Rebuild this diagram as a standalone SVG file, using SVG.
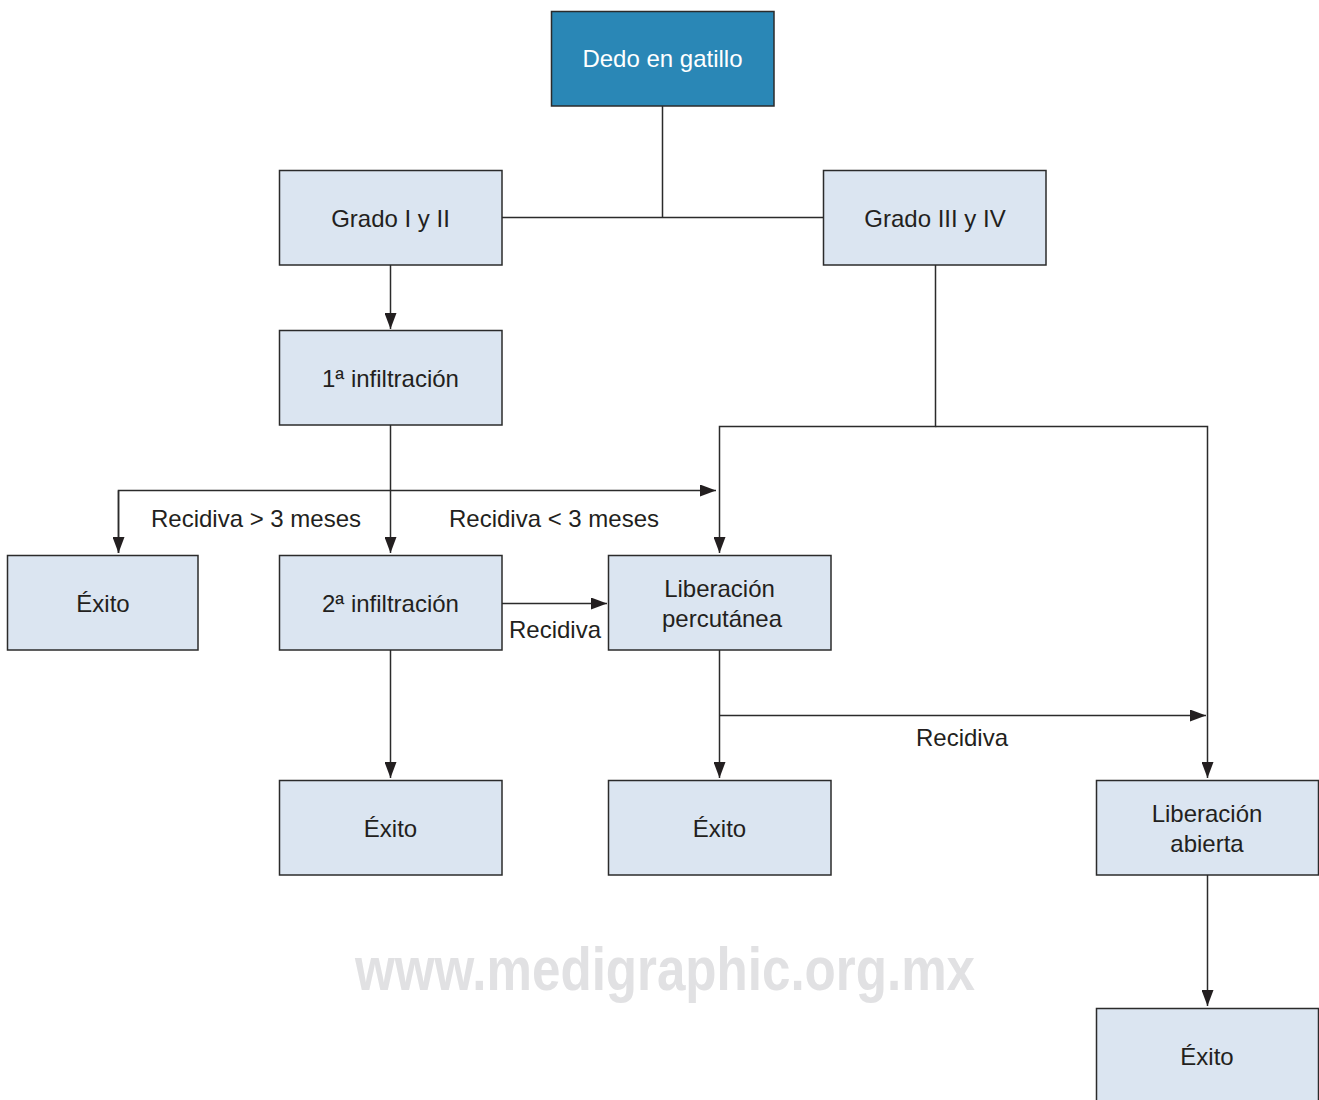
<svg xmlns="http://www.w3.org/2000/svg" width="1319" height="1100" viewBox="0 0 1319 1100">
<style>
.box{fill:#dbe5f1;stroke:#2b2b2b;stroke-width:1.5}
.top{fill:#2a87b6;stroke:#2b2b2b;stroke-width:1.5}
.t{font-family:"Liberation Sans",Arial,sans-serif;font-size:24px;fill:#231f20;text-anchor:middle}
.tw{font-family:"Liberation Sans",Arial,sans-serif;font-size:24px;fill:#ffffff;text-anchor:middle}
.c{fill:none;stroke:#2b2b2b;stroke-width:1.5}
.wm{font-family:"Liberation Sans",Arial,sans-serif;font-weight:bold;font-size:62px;fill:#e1e1e3}
</style>
<defs>
<marker id="ah" viewBox="0 0 16 12" refX="16" refY="6" markerWidth="16" markerHeight="12" markerUnits="userSpaceOnUse" orient="auto">
<path d="M0,0 L16,6 L0,12 Z" fill="#231f20"/>
</marker>
</defs>
<rect width="1319" height="1100" fill="#ffffff"/>
<text class="wm" x="355" y="990" textLength="620" lengthAdjust="spacingAndGlyphs">www.medigraphic.org.mx</text>
<g id="connectors">
<path class="c" d="M662.5,106 V217.5 M502,217.5 H823"/>
<path class="c" d="M390.5,265 V329" marker-end="url(#ah)"/>
<path class="c" d="M390.5,425 V553" marker-end="url(#ah)"/>
<path class="c" d="M118.5,553 V490.5 H716" marker-end="url(#ah)"/>
<path class="c" d="M118.5,490.5 V553" marker-end="url(#ah)"/>
<path class="c" d="M935.5,265 V426.5 H719.5 V553" marker-end="url(#ah)"/>
<path class="c" d="M935.5,426.5 H1207.5 V778" marker-end="url(#ah)"/>
<path class="c" d="M502,603.5 H607" marker-end="url(#ah)"/>
<path class="c" d="M390.5,650 V778" marker-end="url(#ah)"/>
<path class="c" d="M719.5,650 V778" marker-end="url(#ah)"/>
<path class="c" d="M719.5,715.5 H1206" marker-end="url(#ah)"/>
<path class="c" d="M1207.5,875 V1006" marker-end="url(#ah)"/>
<text class="t" x="256" y="527">Recidiva &gt; 3 meses</text>
<text class="t" x="554" y="527">Recidiva &lt; 3 meses</text>
<text class="t" x="555" y="638">Recidiva</text>
<text class="t" x="962" y="746">Recidiva</text>
</g>
<g id="n-dedo"><rect class="top" x="551.5" y="11.5" width="222.5" height="94.5"/><text class="tw" x="662.5" y="67">Dedo en gatillo</text></g>
<g id="n-grado12"><rect class="box" x="279.5" y="170.5" width="222.5" height="94.5"/><text class="t" x="390.5" y="227">Grado I y II</text></g>
<g id="n-grado34"><rect class="box" x="823.5" y="170.5" width="222.5" height="94.5"/><text class="t" x="935" y="227">Grado III y IV</text></g>
<g id="n-inf1"><rect class="box" x="279.5" y="330.5" width="222.5" height="94.5"/><text class="t" x="390.5" y="387">1ª infiltración</text></g>
<g id="n-exito1"><rect class="box" x="7.5" y="555.5" width="190.5" height="94.5"/><text class="t" x="103" y="612">Éxito</text></g>
<g id="n-inf2"><rect class="box" x="279.5" y="555.5" width="222.5" height="94.5"/><text class="t" x="390.5" y="612">2ª infiltración</text></g>
<g id="n-libperc"><rect class="box" x="608.5" y="555.5" width="222.5" height="94.5"/><text class="t" x="719.5" y="597">Liberación</text><text class="t" x="722" y="627">percutánea</text></g>
<g id="n-exito2"><rect class="box" x="279.5" y="780.5" width="222.5" height="94.5"/><text class="t" x="390.5" y="837">Éxito</text></g>
<g id="n-exito3"><rect class="box" x="608.5" y="780.5" width="222.5" height="94.5"/><text class="t" x="719.5" y="837">Éxito</text></g>
<g id="n-libab"><rect class="box" x="1096.5" y="780.5" width="222" height="94.5"/><text class="t" x="1207" y="822">Liberación</text><text class="t" x="1207" y="852">abierta</text></g>
<g id="n-exito4"><rect class="box" x="1096.5" y="1008.5" width="222" height="100"/><text class="t" x="1207" y="1065">Éxito</text></g>
</svg>
